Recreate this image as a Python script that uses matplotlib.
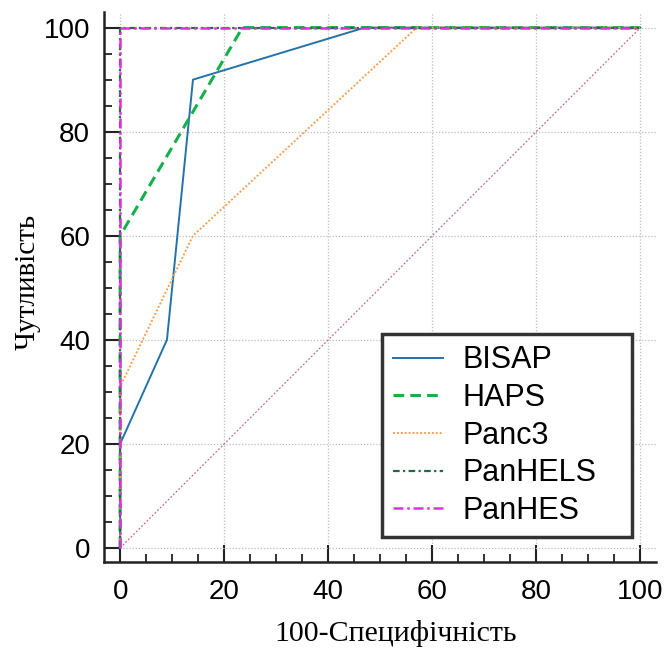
import matplotlib
matplotlib.use("Agg")
import matplotlib.pyplot as plt
from matplotlib.ticker import MultipleLocator

# Data (100-Specificity, Sensitivity)
bisap_x = [0, 0, 9, 14, 47, 100]
bisap_y = [0, 20, 40, 90, 100, 100]
haps_x = [0, 0, 23.5, 100]
haps_y = [0, 60, 100, 100]
panc3_x = [0, 0, 14, 57, 100]
panc3_y = [0, 31, 60, 100, 100]
panhels_x = [0, 0, 100]
panhels_y = [0, 100, 100]
panhes_x = [0, 0, 100]
panhes_y = [0, 100, 100]
diag_x = [0, 100]
diag_y = [0, 100]
ticks = [0, 20, 40, 60, 80, 100]

fig = plt.figure(figsize=(6.69, 6.51), dpi=100)
ax = fig.add_axes([104/669, 1-562/651, 552/669, 550/651])

ax.set_xlim(-3.1, 103)
ax.set_ylim(-2.7, 103)

ax.grid(True, which="major", color="#bcbcbc", linestyle=(0, (1, 1.5)), linewidth=0.9)
ax.set_axisbelow(True)

ax.plot(diag_x, diag_y, color="#c07080", linestyle=(0, (1.5, 1.5)), linewidth=0.9, zorder=2)
ax.plot(bisap_x, bisap_y, color="#2472aa", linestyle="-", linewidth=1.4, label="BISAP", zorder=3)
ax.plot(haps_x, haps_y, color="#14b04a", linestyle=(0, (3.5, 2)), linewidth=2.2, label="HAPS", zorder=3)
ax.plot(panc3_x, panc3_y, color="#f5a055", linestyle=(0, (1, 1)), linewidth=1.4, label="Panc3", zorder=3)
ax.plot(panhels_x, panhels_y, color="#1e6e3e", linestyle=(0, (3, 1.5, 1, 1.5)), linewidth=1.6, label="PanHELS", zorder=4)
ax.plot(panhes_x, panhes_y, color="#e030e0", linestyle=(0, (4, 1.5, 1, 1.5)), linewidth=1.8, label="PanHES", zorder=5)

for s in ["top", "right"]:
    ax.spines[s].set_visible(False)
for s in ["left", "bottom"]:
    ax.spines[s].set_linewidth(1.8)
    ax.spines[s].set_color("#222222")

ax.set_xticks(ticks)
ax.set_yticks(ticks)
ax.xaxis.set_minor_locator(MultipleLocator(5))
ax.yaxis.set_minor_locator(MultipleLocator(5))
ax.tick_params(which="major", direction="in", length=12, width=1.5, color="#222222",
               labelsize=20)
ax.tick_params(which="minor", direction="in", length=6, width=1.3, color="#222222")
ax.tick_params(axis="y", which="major", pad=10)
ax.tick_params(axis="x", which="major", pad=12)
for lab in ax.get_xticklabels() + ax.get_yticklabels():
    lab.set_fontfamily("Liberation Sans")

ax.set_xlabel("100-Специфічність", fontfamily="Liberation Serif", fontsize=21.5)
ax.set_ylabel("Чутливість", fontfamily="Liberation Serif", fontsize=21)
ax.xaxis.set_label_coords(0.529, -0.105)
ax.yaxis.set_label_coords(-0.115, 0.509)

leg = ax.legend(loc="lower left", bbox_to_anchor=(0.5036, 0.0455, 0.453, 0.3), mode="expand",
                borderaxespad=0,
                prop={"family": "Liberation Sans", "size": 22}, fancybox=False,
                framealpha=1, edgecolor="#333333", handlelength=1.63, handletextpad=0.65,
                labelspacing=0.25, borderpad=0.36)
leg.get_frame().set_linewidth(2.5)

fig.savefig("out.png", dpi=100)
